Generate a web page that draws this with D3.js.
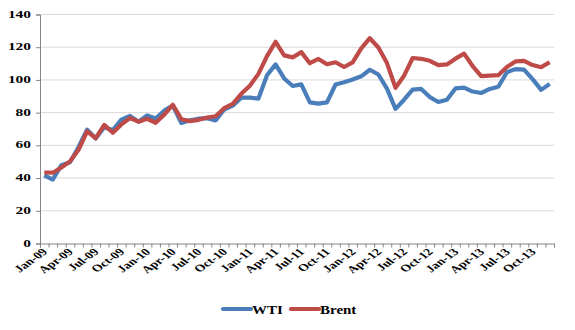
<!DOCTYPE html>
<html>
<head>
<meta charset="utf-8">
<script src="https://cdn.jsdelivr.net/npm/d3@7"></script>
<style>
  html, body { margin: 0; padding: 0; background: #fff; }
  svg { display: block; }
  text { font-family: "Liberation Serif", "Times New Roman", serif; font-weight: bold; fill: #000; }
</style>
</head>
<body>
<svg id="chart" width="575" height="330"></svg>
<script>
const months = [
  "Jan-09","Feb-09","Mar-09","Apr-09","May-09","Jun-09","Jul-09","Aug-09","Sep-09","Oct-09","Nov-09","Dec-09",
  "Jan-10","Feb-10","Mar-10","Apr-10","May-10","Jun-10","Jul-10","Aug-10","Sep-10","Oct-10","Nov-10","Dec-10",
  "Jan-11","Feb-11","Mar-11","Apr-11","May-11","Jun-11","Jul-11","Aug-11","Sep-11","Oct-11","Nov-11","Dec-11",
  "Jan-12","Feb-12","Mar-12","Apr-12","May-12","Jun-12","Jul-12","Aug-12","Sep-12","Oct-12","Nov-12","Dec-12",
  "Jan-13","Feb-13","Mar-13","Apr-13","May-13","Jun-13","Jul-13","Aug-13","Sep-13","Oct-13","Nov-13","Dec-13"
];
const wti = [
  41.7, 39.1, 47.9, 49.7, 59.0, 69.6, 64.2, 71.1, 69.4, 75.7, 78.0, 74.5,
  78.3, 76.4, 81.2, 84.3, 73.7, 75.3, 76.3, 76.6, 75.2, 81.9, 84.3, 89.2,
  89.2, 88.6, 102.9, 109.5, 100.9, 96.3, 97.3, 86.3, 85.5, 86.3, 97.2, 98.6,
  100.3, 102.2, 106.2, 103.3, 94.7, 82.3, 87.9, 94.1, 94.5, 89.5, 86.5, 87.9,
  94.8, 95.3, 92.9, 92.0, 94.5, 95.8, 104.7, 106.6, 106.3, 100.5, 93.9, 97.6
];
const brent = [
  43.4, 43.3, 46.5, 50.2, 57.3, 68.6, 64.4, 72.5, 67.7, 72.8, 76.7, 74.5,
  76.2, 73.8, 78.8, 84.8, 76.0, 74.8, 75.6, 77.0, 77.8, 82.7, 85.3, 91.5,
  96.5, 103.7, 114.6, 123.3, 115.0, 113.8, 117.0, 110.2, 112.8, 109.6, 110.8, 107.9,
  110.7, 119.3, 125.5, 119.8, 110.3, 95.2, 102.6, 113.4, 112.9, 111.7, 109.1, 109.5,
  113.0, 116.1, 108.5, 102.3, 102.6, 102.9, 107.9, 111.3, 111.6, 109.1, 107.8, 110.8
];
const yTicks = [0, 20, 40, 60, 80, 100, 120, 140];
const seriesNames = ["WTI", "Brent"];
const seriesColors = ["#4A7EBB", "#BE4B48"];

const svg = d3.select("#chart");
const pLeft = 40, pRight = 554, pTop = 14.5, pBottom = 243.5;

const x = d3.scaleBand().domain(months).range([pLeft, pRight]);
const xEdge = d3.scaleLinear().domain([0, months.length]).range([pLeft, pRight]);
const y = d3.scaleLinear().domain([0, 140]).range([pBottom, pTop]);
const cx = m => x(m) + x.bandwidth() / 2;

// gridlines
svg.append("g").selectAll("line").data(yTicks.slice(1)).join("line")
  .attr("x1", pLeft).attr("x2", pRight)
  .attr("y1", d => y(d)).attr("y2", d => y(d))
  .attr("stroke", "#d9d9d9").attr("stroke-width", 1);

// y axis
const yAxis = svg.append("g").attr("transform", `translate(${pLeft},0)`)
  .call(d3.axisLeft(y).tickValues(yTicks).tickSize(4).tickPadding(6).tickFormat(d3.format("d")));
yAxis.select(".domain").attr("stroke", "#868686");
yAxis.selectAll(".tick line").attr("stroke", "#868686");
yAxis.selectAll(".tick text")
  .style("font-size", "11px")
  .attr("font-family", null)
  .attr("x", null).attr("dy", null)
  .attr("text-anchor", "end")
  .attr("dominant-baseline", "middle")
  .attr("transform", "translate(-9,0) scale(1.4,1)");

// x axis ticks (between categories)
const xTicksG = svg.append("g").attr("transform", `translate(0,${pBottom})`)
  .call(d3.axisBottom(xEdge).tickValues(d3.range(months.length + 1)).tickSize(4).tickFormat(""));
xTicksG.select(".domain").attr("stroke", "#868686");
xTicksG.selectAll(".tick line").attr("stroke", "#868686");

// x axis labels
const labelMonths = months.filter((m, i) => i % 3 === 0);
const xLab = svg.append("g").attr("transform", `translate(0,${pBottom})`)
  .call(d3.axisBottom(x).tickValues(labelMonths).tickSize(0));
xLab.select(".domain").remove();
xLab.selectAll(".tick text")
  .style("font-size", "10px")
  .attr("font-family", null)
  .attr("y", null).attr("dy", null)
  .attr("text-anchor", "end")
  .attr("transform", "translate(4,9) scale(1.4,1) rotate(-45)");

// lines
const line = d3.line().x((d, i) => cx(months[i])).y(d => y(d));
const data = [wti, brent];
svg.append("g").selectAll("path").data(data).join("path")
  .attr("d", d => line(d))
  .attr("fill", "none")
  .attr("stroke", (d, i) => seriesColors[i])
  .attr("stroke-width", 4.2)
  .attr("stroke-linejoin", "round");

// legend
const legendItems = [
  { name: seriesNames[0], color: seriesColors[0], x0: 223 },
  { name: seriesNames[1], color: seriesColors[1], x0: 291 }
];
const lg = svg.append("g");
legendItems.forEach(it => {
  lg.append("line")
    .attr("x1", it.x0).attr("x2", it.x0 + 28)
    .attr("y1", 309).attr("y2", 309)
    .attr("stroke", it.color).attr("stroke-width", 4.2).attr("stroke-linecap", "round");
  lg.append("text")
    .attr("transform", `translate(${it.x0 + 29},313.5) scale(1.2,1)`)
    .style("font-size", "12.5px")
    .text(it.name);
});
</script>
</body>
</html>
